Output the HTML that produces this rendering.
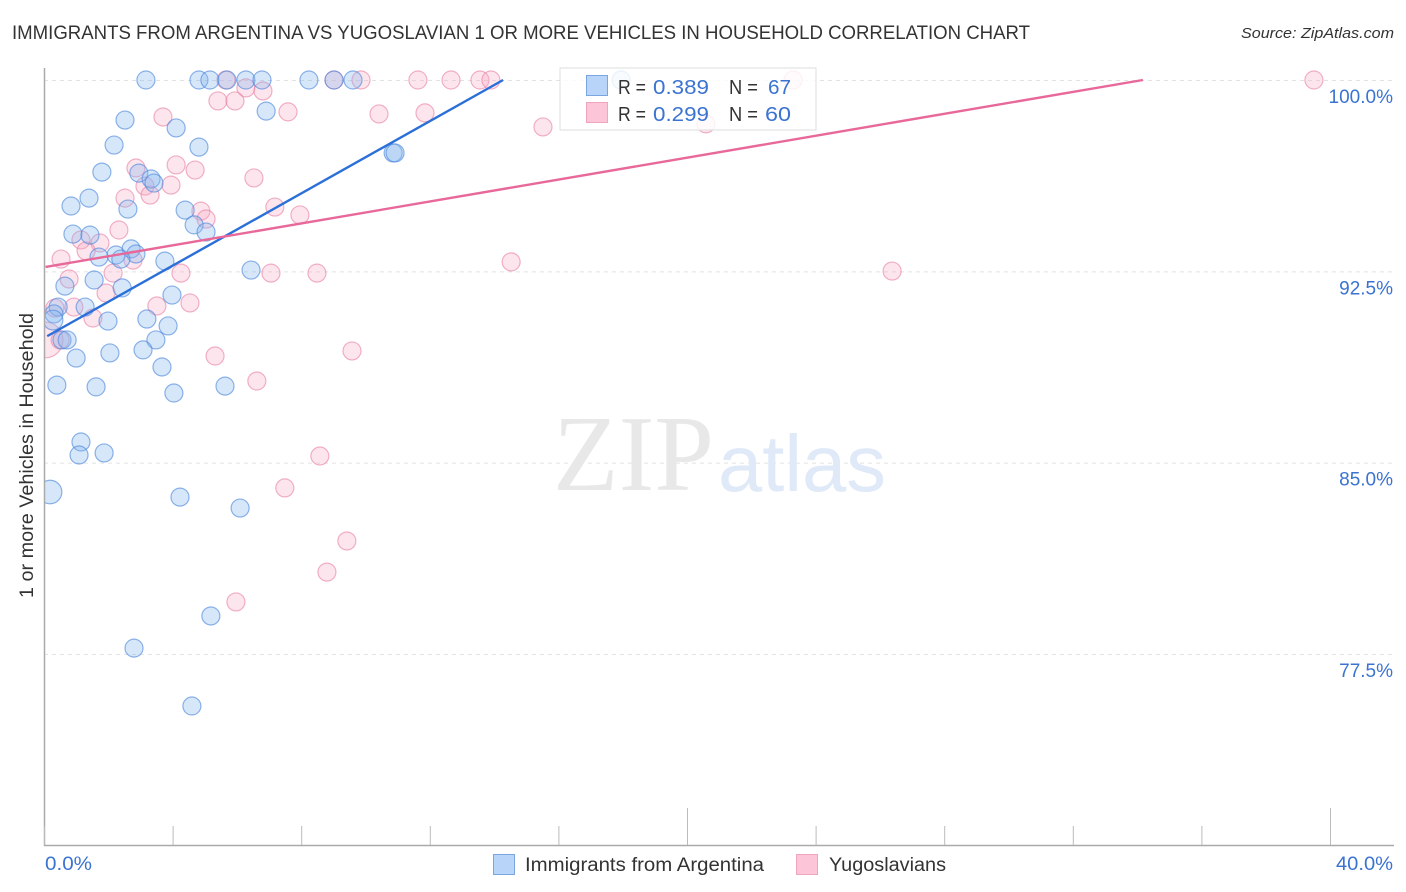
<!DOCTYPE html>
<html lang="en">
<head>
<meta charset="utf-8">
<title>Immigrants from Argentina vs Yugoslavian 1 or more Vehicles in Household Correlation Chart</title>
<style>
html,body{margin:0;padding:0;background:#fff;width:1406px;height:892px;overflow:hidden}
svg{display:block}
text{font-family:"Liberation Sans",sans-serif}
</style>
</head>
<body>
<svg id="chart" width="1406" height="892" viewBox="0 0 1406 892" xmlns="http://www.w3.org/2000/svg">
  <defs>
    <clipPath id="plot-clip"><rect x="44" y="60" width="1350" height="785"/></clipPath>
  </defs>
  <text x="12" y="39" font-size="19" fill="#333" textLength="1018" lengthAdjust="spacingAndGlyphs">IMMIGRANTS FROM ARGENTINA VS YUGOSLAVIAN 1 OR MORE VEHICLES IN HOUSEHOLD CORRELATION CHART</text>
  <text x="1241" y="38" font-size="15" font-style="italic" fill="#333" textLength="153" lengthAdjust="spacingAndGlyphs">Source: ZipAtlas.com</text>

  <g id="grid"></g>

  <g>
    <text x="553" y="490" font-size="108" fill="#e8e8e8" style="font-family:'Liberation Serif',serif" textLength="161" lengthAdjust="spacingAndGlyphs">ZIP</text>
    <text x="718" y="491" font-size="80" fill="#dfe9f8" textLength="168" lengthAdjust="spacingAndGlyphs">atlas</text>
  </g>

  <g id="points" clip-path="url(#plot-clip)"></g>
  <g id="trends" clip-path="url(#plot-clip)"></g>
  <g id="axes"></g>

  <text transform="translate(33,598) rotate(-90)" font-size="19.5" fill="#333" textLength="285" lengthAdjust="spacingAndGlyphs">1 or more Vehicles in Household</text>

  <g>
    <rect x="560" y="68" width="256" height="62" fill="#fff" fill-opacity="0.82" stroke="#ddd" stroke-width="1"/>
    <rect x="586.5" y="75.5" width="21" height="20" fill="#b8d4f8" stroke="#7aa5e0"/>
    <rect x="586.5" y="102.5" width="21" height="20" fill="#fcc6d8" stroke="#f2a3bd"/>
    <text x="618" y="94" font-size="20" fill="#333" textLength="28" lengthAdjust="spacingAndGlyphs">R =</text>
    <text x="653" y="94" font-size="20" fill="#3b73d1" textLength="56" lengthAdjust="spacingAndGlyphs">0.389</text>
    <text x="729" y="94" font-size="20" fill="#333" textLength="29" lengthAdjust="spacingAndGlyphs">N =</text>
    <text x="768" y="94" font-size="20" fill="#3b73d1" textLength="23" lengthAdjust="spacingAndGlyphs">67</text>
    <text x="618" y="121" font-size="20" fill="#333" textLength="28" lengthAdjust="spacingAndGlyphs">R =</text>
    <text x="653" y="121" font-size="20" fill="#3b73d1" textLength="56" lengthAdjust="spacingAndGlyphs">0.299</text>
    <text x="729" y="121" font-size="20" fill="#333" textLength="29" lengthAdjust="spacingAndGlyphs">N =</text>
    <text x="765" y="121" font-size="20" fill="#3b73d1" textLength="26" lengthAdjust="spacingAndGlyphs">60</text>
  </g>

  <g>
    <rect x="493.5" y="854.5" width="21" height="20" fill="#b8d4f8" stroke="#7aa5e0"/>
    <text x="525" y="871" font-size="19" fill="#333" textLength="239" lengthAdjust="spacingAndGlyphs">Immigrants from Argentina</text>
    <rect x="796.5" y="854.5" width="21" height="20" fill="#fcc6d8" stroke="#f2a3bd"/>
    <text x="829" y="871" font-size="19" fill="#333" textLength="117" lengthAdjust="spacingAndGlyphs">Yugoslavians</text>
  </g>
</svg>
<script>
const xTickValues = [0, 4, 8, 12, 16, 20, 24, 28, 32, 36, 40];
const xMajorTicks = [20, 40];
const xEdgeValues = [0, 40];
const xEdgeLabels = ['0.0%', '40.0%'];
const yTickValues = [100, 92.5, 85, 77.5];
const yTickLabels = ['100.0%', '92.5%', '85.0%', '77.5%'];

const argentinaX = [3.17,4.82,5.16,5.69,6.28,6.78,8.24,9.02,9.61,17.95,6.91,2.52,4.11,2.18,4.82,10.86,10.92,1.80,2.95,3.33,3.42,1.40,0.84,2.61,4.39,4.67,5.04,0.90,1.43,2.71,2.24,2.86,1.71,2.39,3.76,6.44,1.56,0.65,2.43,3.98,0.44,1.28,0.31,1.99,0.28,3.20,3.86,0.56,0.72,3.48,2.05,3.08,1.00,3.67,0.40,1.62,5.63,4.04,1.15,1.09,1.87,0.19,4.23,6.10,5.19,2.80,4.60];
const argentinaY = [100,100,100,100,100,100,100,100,100,100,98.78,98.43,98.12,97.45,97.37,97.14,97.14,96.39,96.35,96.12,95.96,95.37,95.06,94.94,94.90,94.32,94.04,93.96,93.92,93.38,93.14,93.18,93.06,92.98,92.90,92.55,92.16,91.92,91.85,91.57,91.10,91.10,90.83,90.55,90.59,90.63,90.36,89.81,89.81,89.81,89.30,89.42,89.10,88.75,88.04,87.97,88.00,87.73,85.81,85.30,85.38,83.85,83.65,83.22,78.99,77.73,75.46];
const argentinaWeight = [1,1,1,1,1,1,1,1,1,1,1,1,1,1,1,1,1,1,1,1,1,1,1,1,1,1,1,1,1,1,1,1,1,1,1,1,1,1,1,1,1,1,1,1,1.2,1,1,1,1,1,1,1,1,1,1,1,1,1,1,1,1,1.7,1,1,1,1,1];

const yugoslavX = [5.66,9.02,9.86,11.63,12.66,13.56,13.90,23.30,39.50,6.28,6.81,5.41,5.94,7.59,3.70,10.42,11.85,15.52,20.59,4.11,4.70,2.86,6.53,3.95,3.14,3.30,2.52,7.18,7.96,4.88,5.04,2.33,1.15,1.74,1.31,0.53,2.77,2.15,4.26,7.06,8.49,14.53,26.38,0.78,1.93,3.51,4.54,0.93,0.34,1.52,5.32,9.58,6.62,8.58,7.49,9.42,8.80,5.97,0.03,0.50];
const yugoslavY = [100,100,100,100,100,100,100,100,100,99.69,99.57,99.18,99.18,98.75,98.55,98.67,98.71,98.16,98.28,96.67,96.47,96.55,96.16,95.88,95.84,95.49,95.37,95.02,94.71,94.86,94.55,94.12,93.73,93.61,93.30,92.98,92.94,92.43,92.43,92.43,92.43,92.87,92.51,92.20,91.65,91.14,91.26,91.10,91.06,90.67,89.18,89.38,88.20,85.26,84.01,81.93,80.71,79.54,89.81,89.81];
const yugoslavWeight = [1,1,1,1,1,1,1,1,1,1,1,1,1,1,1,1,1,1,1,1,1,1,1,1,1,1,1,1,1,1,1,1,1,1,1,1,1,1,1,1,1,1,1,1,1,1,1,1,1,1,1,1,1,1,1,1,1,1,4,1];

const argentinaTrendX = [0.1, 14.28];
const argentinaTrendY = [89.96, 100];
const yugoslavTrendX = [0.05, 34.18];
const yugoslavTrendY = [92.67, 100];

const NS = 'http://www.w3.org/2000/svg';
function xScale(v) { return 44 + v * 32.15; }
function yScale(v) { return 80 + (100 - v) * 25.51; }
function rScale(w) { return 9 * Math.sqrt(w); }
function make(tag, attrs, parent) {
  const el = document.createElementNS(NS, tag);
  for (const k in attrs) el.setAttribute(k, attrs[k]);
  parent.appendChild(el);
  return el;
}

const gridG = document.getElementById('grid');
yTickValues.forEach(function (v, i) {
  const line = make('line', {x1: 44, x2: 1394, y1: yScale(v) + 0.5, y2: yScale(v) + 0.5, stroke: '#e2e2e2', 'stroke-width': 1, 'stroke-dasharray': '4 4'}, gridG);
  
  
  const label = make('text', {x: 1393, y: yScale(v) + 23, 'font-size': 19, fill: '#3b73d1', 'text-anchor': 'end'}, gridG);
  
  
  label.textContent = yTickLabels[i];
});

const pointsG = document.getElementById('points');
yugoslavX.forEach(function (x, i) {
  const c = make('circle', {cx: xScale(x), cy: yScale(yugoslavY[i]), r: rScale(yugoslavWeight[i]), fill: '#f7a8c2', 'fill-opacity': 0.3, stroke: '#e87ea3', 'stroke-opacity': 0.6, 'stroke-width': 1.2}, pointsG);
  
  
});
argentinaX.forEach(function (x, i) {
  const c = make('circle', {cx: xScale(x), cy: yScale(argentinaY[i]), r: rScale(argentinaWeight[i]), fill: '#85b5f0', 'fill-opacity': 0.33, stroke: '#4a86dc', 'stroke-opacity': 0.62, 'stroke-width': 1.2}, pointsG);
  
  
});

const trendsG = document.getElementById('trends');
const trendA = make('line', {x1: xScale(argentinaTrendX[0]), y1: yScale(argentinaTrendY[0]), x2: xScale(argentinaTrendX[1]), y2: yScale(argentinaTrendY[1]), stroke: '#2b6fd8', 'stroke-width': 2.4}, trendsG);


const trendY = make('line', {x1: xScale(yugoslavTrendX[0]), y1: yScale(yugoslavTrendY[0]), x2: xScale(yugoslavTrendX[1]), y2: yScale(yugoslavTrendY[1]), stroke: '#e8689a', 'stroke-width': 2.4}, trendsG);



const axesG = document.getElementById('axes');
const yAxis = make('line', {x1: 44.5, x2: 44.5, y1: 68, y2: 846, stroke: '#aaa', 'stroke-width': 1.5}, axesG);


const xAxis = make('line', {x1: 44, x2: 1394, y1: 845.5, y2: 845.5, stroke: '#aaa', 'stroke-width': 1.5}, axesG);


xTickValues.forEach(function (v) {
  const top = xMajorTicks.indexOf(v) >= 0 ? 808 : 826;
  const tick = make('line', {x1: xScale(v) + 0.5, x2: xScale(v) + 0.5, y1: top, y2: 845, stroke: '#bbb', 'stroke-width': 1}, axesG);
  
  
});
xEdgeValues.forEach(function (v, i) {
  const label = make('text', {x: i === 0 ? xScale(v) + 1 : 1336, y: 870, 'font-size': 19, fill: '#3b73d1', textLength: i === 0 ? 47 : 57, lengthAdjust: 'spacingAndGlyphs'}, axesG);
  
  
  label.textContent = xEdgeLabels[i];
});
</script>
</body>
</html>
